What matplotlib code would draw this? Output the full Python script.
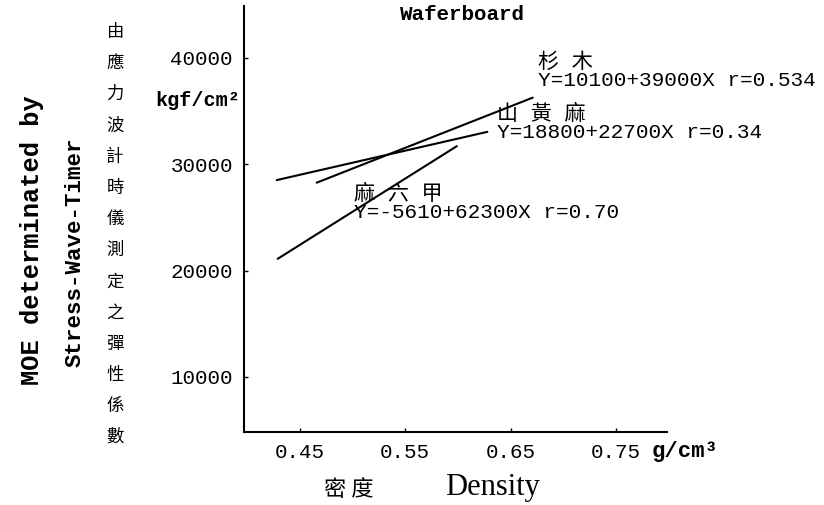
import numpy as np
import matplotlib
matplotlib.use("Agg")
import matplotlib.pyplot as plt

plt.rcParams['font.family'] = ['Liberation Mono', 'Noto Sans CJK TC', 'DejaVu Sans']

# regression lines: MOE = a + b * density, fitted over each species' density range
species = ['杉 木', '山 黃 麻', '麻 六 甲']
intercepts = [10100, 18800, -5610]
slopes = [39000, 22700, 62300]
r_values = ['0.534', '0.34', '0.70']
x_ranges = [(0.466, 0.671), (0.428, 0.628), (0.429, 0.599)]

xticks = [0.45, 0.55, 0.65, 0.75]
yticks = [10000, 20000, 30000, 40000]

W, H = 824, 505
fig = plt.figure(figsize=(W / 100, H / 100), dpi=100)
ax = fig.add_axes([244 / W, 1 - 432 / H, (667 - 244) / W, (432 - 6) / H])

for a, b, (x0, x1) in zip(intercepts, slopes, x_ranges):
    xs = np.array([x0, x1])
    ax.plot(xs, a + b * xs, color='black', lw=1.5, solid_capstyle='round')

ax.set_xlim(0.397, 0.7985)
ax.set_ylim(4827, 44890)
ax.set_xticks(xticks)
ax.set_xticklabels(['%.2f' % v for v in xticks], fontsize=15)
ax.set_yticks(yticks)
ax.set_yticklabels([str(v) for v in yticks], fontsize=15)
ax.tick_params(direction='in', length=3, width=1)
ax.tick_params(axis='x', pad=8)
ax.tick_params(axis='y', pad=8)
for s in ['top', 'right']:
    ax.spines[s].set_visible(False)
for s in ['left', 'bottom']:
    ax.spines[s].set_linewidth(1.5)


def px(x, y):
    return x / W, 1 - y / H


cjk = ['Noto Sans CJK TC']

# species name over its fitted equation, one block per line
label_pos = [(538, 71), (497, 123), (354, 203)]
for name, a, b, r, (lx, ly) in zip(species, intercepts, slopes, r_values, label_pos):
    fig.text(*px(lx, ly), '%s\nY=%d+%dX r=%s' % (name, a, b, r),
             fontsize=15.2, va='center', ha='left', linespacing=0.94, color='black')

fig.text(*px(462, 15), 'Waferboard', fontsize=15, ha='center', va='center',
         fontweight='bold', color='black')
fig.text(*px(198, 100), 'kgf/cm²', fontsize=14.5, ha='center', va='center',
         fontweight='bold', color='black')
fig.text(*px(652, 452), 'g/cm³', fontsize=16, ha='left', va='center',
         fontweight='bold', color='black')

# y axis titles
fig.text(*px(32, 240), 'MOE determinated by', fontsize=18.3, rotation=90,
         ha='center', va='center', fontweight='bold', color='black')
fig.text(*px(75, 252), 'Stress-Wave-Timer', fontsize=16.2, rotation=90,
         ha='center', va='center', fontweight='bold', color='black')
col = '由應力波計時儀測定之彈性係數'
for i, ch in enumerate(col):
    fig.text(*px(115, 32 + i * 31.15), ch, fontsize=12.5, ha='center',
             va='center', family=cjk, color='black')

# x axis titles
fig.text(*px(349, 490), '密 度', fontsize=16, ha='center', va='center',
         family=cjk, color='black')
fig.text(*px(493, 488), 'Density', fontsize=22, ha='center', va='center',
         family=['Liberation Serif'], color='black')

fig.savefig('out.png', dpi=100)
